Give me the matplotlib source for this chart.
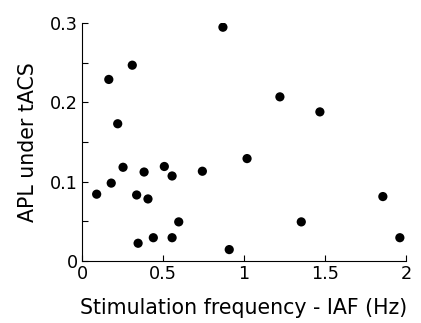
import numpy as np
import matplotlib
matplotlib.use('Agg')
import matplotlib.pyplot as plt

# values
freq_diff = [0.09, 0.18, 0.165, 0.22, 0.253, 0.31, 0.337, 0.346, 0.383, 0.407,
             0.44, 0.508, 0.556, 0.556, 0.597, 0.743, 0.870, 0.909, 1.019,
             1.222, 1.354, 1.469, 1.858, 1.963]
apl = [0.084, 0.098, 0.229, 0.173, 0.118, 0.247, 0.083, 0.022, 0.112, 0.078,
       0.029, 0.119, 0.107, 0.029, 0.049, 0.113, 0.295, 0.014, 0.129,
       0.207, 0.049, 0.188, 0.081, 0.029]

x_ticks = [0, 0.5, 1, 1.5, 2]
x_tick_labels = ['0', '0.5', '1', '1.5', '2']
y_ticks = [0, 0.1, 0.2, 0.3]
y_tick_labels = ['0', '0.1', '0.2', '0.3']
y_minor = [0.05, 0.15, 0.25]

plt.rcParams['font.family'] = ['DejaVu Sans']

fig = plt.figure(figsize=(4.21, 3.23), dpi=100)
ax = fig.add_axes([0.195, 0.193, 0.769, 0.735])

ax.scatter(freq_diff, apl, s=44, color='black', edgecolors='none', zorder=3)

ax.set_xlim(0, 2)
ax.set_ylim(0, 0.3)
ax.set_xticks(x_ticks)
ax.set_xticklabels(x_tick_labels)
ax.set_yticks(y_ticks)
ax.set_yticklabels(y_tick_labels)
ax.set_yticks(y_minor, minor=True)

for side in ['top', 'right']:
    ax.spines[side].set_visible(False)
for side in ['left', 'bottom']:
    ax.spines[side].set_linewidth(0.8)

ax.tick_params(direction='in', length=4, width=0.8, labelsize=12.7, pad=3)
ax.tick_params(which='minor', direction='in', length=4, width=0.8)

ax.set_xlabel('Stimulation frequency - IAF (Hz)', fontsize=14.8, labelpad=11)
ax.set_ylabel('APL under tACS', fontsize=14.8, labelpad=9)

fig.savefig('out.png', dpi=100)
